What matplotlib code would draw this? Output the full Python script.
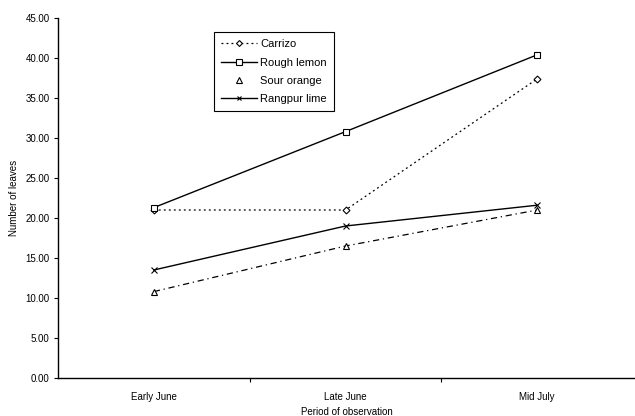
import numpy as np
import matplotlib.pyplot as plt
from matplotlib.lines import Line2D
from matplotlib.ticker import FixedLocator, FormatStrFormatter

# data
periods = ["Early June", "Late June", "Mid July"]
carrizo = [21.0, 21.0, 37.4]
rough_lemon = [21.3, 30.8, 40.4]
sour_orange = [10.8, 16.5, 21.0]
rangpur_lime = [13.5, 19.0, 21.6]

plt.rcParams["font.family"] = ["Liberation Sans", "DejaVu Sans"]
plt.rcParams["font.size"] = 7

fig = plt.figure(figsize=(6.35, 4.16), dpi=100)
ax = fig.add_axes([58 / 635, 1 - 378 / 416, 1 - 58 / 635, (378 - 18) / 416])

x = np.arange(len(periods))
ax.plot(x, carrizo, color="black", lw=0.9, ls=(0, (1.5, 2.5)),
        marker="D", ms=3.5, mfc="white", mec="black", mew=0.8)
ax.plot(x, rough_lemon, color="black", lw=1.0, ls="-",
        marker="s", ms=4.5, mfc="white", mec="black", mew=0.8)
ax.plot(x, sour_orange, color="black", lw=0.9, ls=(0, (5, 3, 1, 3)),
        marker="^", ms=4.5, mfc="white", mec="black", mew=0.8)
ax.plot(x, rangpur_lime, color="black", lw=1.0, ls="-",
        marker="x", ms=4, mec="black", mew=0.8)

ax.set_xlim(-0.5, len(periods) - 0.5 + 0.01)
ax.set_ylim(0, 45)
ax.yaxis.set_major_locator(FixedLocator(np.arange(0, 46, 5)))
ax.yaxis.set_major_formatter(FormatStrFormatter("%.2f"))

ax.set_xticks(x)
ax.set_xticklabels(periods)
ax.xaxis.set_minor_locator(FixedLocator([0.5, 1.5]))
ax.tick_params(axis="x", which="major", length=0, pad=10)
ax.tick_params(axis="x", which="minor", length=3, direction="out", width=0.8)
ax.tick_params(axis="y", length=3, direction="out", width=0.8, pad=3)

for s in ["top", "right"]:
    ax.spines[s].set_visible(False)
for s in ["left", "bottom"]:
    ax.spines[s].set_linewidth(1.0)

ax.set_ylabel("Number of leaves", labelpad=5)
ax.set_xlabel("Period of observation", labelpad=4)

# legend: sour orange shows only its marker
h_sour = Line2D([], [], ls="none", marker="^", ms=4, mfc="white", mec="black", mew=0.8)
h1 = Line2D([], [], color="black", lw=0.9, ls=(0, (1.5, 2.5)),
            marker="D", ms=3, mfc="white", mec="black", mew=0.8)
h2 = Line2D([], [], color="black", lw=1.0, marker="s", ms=4, mfc="white", mec="black", mew=0.8)
h4 = Line2D([], [], color="black", lw=1.0, marker="x", ms=3, mec="black", mew=0.8)
leg = ax.legend([h1, h2, h_sour, h4], ["Carrizo", "Rough lemon", "Sour orange", "Rangpur lime"],
                loc="upper left", bbox_to_anchor=((214 - 58) / 577, 1 - (32 - 18) / 360),
                frameon=True, fancybox=False, edgecolor="black", framealpha=1,
                fontsize=8, handlelength=3.2, borderpad=0.65, labelspacing=0.75,
                handletextpad=0.3, borderaxespad=0)
leg.get_frame().set_linewidth(0.8)

fig.savefig("out.png", dpi=100)
